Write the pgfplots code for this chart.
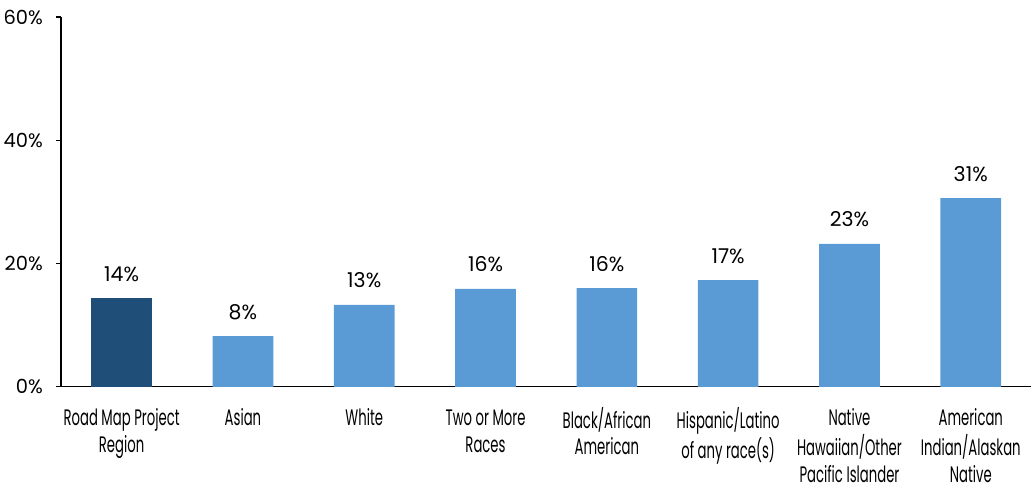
\documentclass[border=0pt]{standalone}
\usepackage{fontspec}
\setmainfont{Poppins}
\newfontfamily\condfont[FakeStretch=0.59]{Poppins}
\usepackage{pgfplots}
\pgfplotsset{compat=1.18}
\usepackage{pgfplotstable}
\definecolor{darkbar}{HTML}{1F4E79}
\definecolor{lightbar}{HTML}{5B9BD5}
\pgfplotstableread[col sep=comma]{
x,y,lab
0,14.4,14\%
}\tregion
\pgfplotstableread[col sep=comma]{
x,y,lab
1,8.2,8\%
2,13.3,13\%
3,15.9,16\%
4,16.0,16\%
5,17.3,17\%
6,23.2,23\%
7,30.6,31\%
}\tgroups
\begin{document}
\begin{tikzpicture}
\begin{axis}[
  scale only axis,
  width=971bp, height=370bp,
  xmin=-0.5, xmax=7.5,
  ymin=0, ymax=60,
  axis x line*=bottom, axis y line*=left,
  axis line style={-, line width=1.2pt, black},
  xtick={0,...,7},
  xticklabels={{\strut Road Map Project\\Region},{\strut Asian},{\strut White},{\strut Two or More\\Races},{\strut Black/African\\American},{\strut Hispanic/Latino\\of any race(s)},{\strut Native\\Hawaiian/Other\\Pacific Islander},{\strut American\\Indian/Alaskan\\Native}},
  x tick label style={font=\condfont\fontsize{22.5}{27}\selectfont, align=center, anchor=north, inner sep=0pt, yshift=-15bp},
  xtick style={draw=none},
  ytick={0,20,40,60},
  yticklabel={\pgfmathprintnumber{\tick}\%},
  y tick label style={font=\fontsize{19.5}{23}\selectfont, anchor=east, inner sep=0pt, xshift=-13bp},
  /pgf/number format/assume math mode=true,
  tick align=outside,
  major tick length=5bp,
  ytick style={line width=1.2pt, black},
  ybar, bar width=0.5,
  bar shift=0pt,
  nodes near coords,
  point meta=explicit symbolic,
  every node near coord/.append style={font=\fontsize{20.5}{24}\selectfont, anchor=base, inner sep=0pt, yshift=17bp},
  clip=false,
]
\addplot[fill=darkbar, draw=none] table[x=x, y=y, meta=lab] {\tregion};
\addplot[fill=lightbar, draw=none] table[x=x, y=y, meta=lab] {\tgroups};
\end{axis}
\path ([xshift=-61bp, yshift=-103bp]current axis.south west) rectangle ([yshift=17bp]current axis.north east);
\end{tikzpicture}
\end{document}
